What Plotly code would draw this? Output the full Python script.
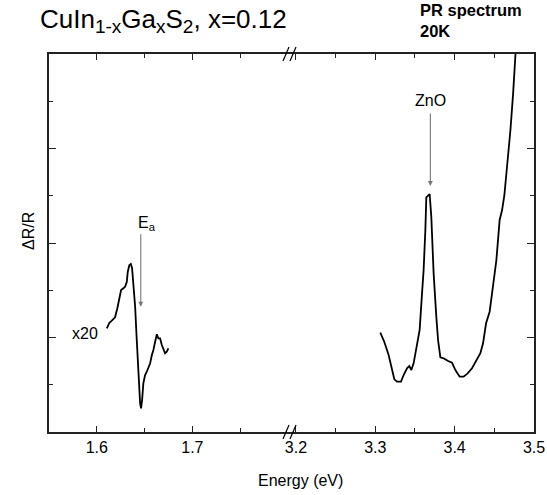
import plotly.graph_objects as go

# ---------------- data ----------------
# Left segment (x20 magnified, E_a region)
ea_energy = [1.6105, 1.6132, 1.6157, 1.6174, 1.6191, 1.6215, 1.6236, 1.6254, 1.6278, 1.6296,
             1.6314, 1.6324, 1.6341, 1.6356, 1.6369, 1.6383, 1.6401, 1.6418, 1.6432, 1.6446,
             1.6453, 1.6463, 1.6474, 1.6487, 1.6505, 1.6523, 1.6540, 1.6558, 1.6576, 1.6592,
             1.6610, 1.6628, 1.6644, 1.6662, 1.6680, 1.6697, 1.6714, 1.6732, 1.6749]
ea_signal = [2.195, 2.313, 2.356, 2.392, 2.428, 2.618, 2.830, 3.005, 3.041, 3.075,
             3.181, 3.393, 3.534, 3.556, 3.465, 3.147, 2.652, 1.947, 1.382, 0.889,
             0.607, 0.501, 0.677, 1.031, 1.206, 1.276, 1.348, 1.454, 1.630, 1.735,
             1.911, 2.068, 1.983, 1.983, 1.841, 1.771, 1.666, 1.699, 1.771]

# Right segment (ZnO region)
zno_energy = [3.3063, 3.3113, 3.3168, 3.3211, 3.3240, 3.3274, 3.3324, 3.3357, 3.3400, 3.3429,
              3.3454, 3.3483, 3.3517, 3.3559, 3.3589, 3.3609, 3.3631, 3.3643, 3.3665, 3.3685,
              3.3706, 3.3735, 3.3769, 3.3791, 3.3820, 3.3861, 3.3912, 3.3967, 3.4009, 3.4063,
              3.4113, 3.4164, 3.4219, 3.4282, 3.4324, 3.4358, 3.4396, 3.4441, 3.4484, 3.4526,
              3.4567, 3.4598, 3.4627, 3.4661, 3.4703, 3.4737, 3.4766, 3.4804]
zno_signal = [2.102, 1.911, 1.630, 1.348, 1.115, 1.065, 1.065, 1.206, 1.348, 1.397,
              1.312, 1.454, 1.735, 2.159, 2.935, 3.429, 4.275, 4.967, 5.001, 5.037,
              4.557, 3.359, 2.440, 1.947, 1.581, 1.560, 1.509, 1.467, 1.312, 1.170,
              1.170, 1.242, 1.348, 1.524, 1.666, 1.877, 2.301, 2.546, 3.075, 3.640,
              4.487, 4.698, 5.016, 5.615, 6.392, 7.168, 7.979, 8.508]

left_range = [1.55, 1.80]
right_range = [3.19, 3.50]
left_ticks = [1.6, 1.7]
left_minor = [1.65, 1.75]
right_ticks = [3.2, 3.3, 3.4, 3.5]
right_minor = [3.25, 3.35, 3.45]
y_range = [0, 8]
y_major = [2, 4, 6]
y_minor = [1, 3, 5, 7]

FONT = "Liberation Sans, Arial, sans-serif"
AX = "#222222"

fig = go.Figure()
fig.add_trace(go.Scatter(x=ea_energy, y=ea_signal, mode="lines",
                         line=dict(color="black", width=1.8), xaxis="x", yaxis="y",
                         showlegend=False, hoverinfo="skip"))
fig.add_trace(go.Scatter(x=zno_energy, y=zno_signal, mode="lines",
                         line=dict(color="black", width=1.8), xaxis="x2", yaxis="y2",
                         showlegend=False, hoverinfo="skip"))

split = (288 - 49) / 485

common_x = dict(showline=True, linecolor=AX, linewidth=1.5, mirror="ticks",
                ticks="inside", ticklen=6, tickwidth=1, tickcolor=AX,
                showgrid=False, zeroline=False, tickmode="array", automargin=False,
                tickfont=dict(family=FONT, size=16, color="black"))
common_y = dict(showline=True, linecolor=AX, linewidth=1.5, ticks="inside",
                ticklen=7, tickwidth=1, tickcolor=AX, showgrid=False, zeroline=False,
                range=y_range, tickmode="array", tickvals=y_major, showticklabels=False,
                automargin=False,
                minor=dict(tickmode="array", tickvals=y_minor, ticks="inside",
                           ticklen=4, tickcolor=AX))

fig.update_layout(
    width=547, height=495,
    margin=dict(l=49, r=13, t=54, b=63, autoexpand=False),
    paper_bgcolor="white", plot_bgcolor="white",
    font=dict(family=FONT, color="black"),
    xaxis=dict(domain=[0, split], range=left_range, tickvals=left_ticks,
               minor=dict(tickmode="array", tickvals=left_minor, ticks="inside",
                          ticklen=4, tickcolor=AX), anchor="y", **common_x),
    xaxis2=dict(domain=[split, 1], range=right_range, tickvals=right_ticks,
                minor=dict(tickmode="array", tickvals=right_minor, ticks="inside",
                           ticklen=4, tickcolor=AX), anchor="y2", **common_x),
    yaxis=dict(anchor="x", side="left", **common_y),
    yaxis2=dict(anchor="x2", side="right", matches="y", **common_y),
)

ARROW = "#777777"
SUB = '<sub><span style="font-size:19px">{}</span></sub>'
title_text = "CuIn" + SUB.format("1-x") + "Ga" + SUB.format("x") + "S" + SUB.format("2") + ", x=0.12"
ann = [
    # title
    dict(text=title_text, xref="paper", yref="paper",
         x=(38 - 49) / 485, y=(432 - 2) / 378, xanchor="left", yanchor="top",
         showarrow=False, font=dict(size=26, family=FONT)),
    dict(text="<b>PR spectrum<br>20K</b>", xref="paper", yref="paper",
         x=(418 - 49) / 485, y=(432 + 1) / 378, xanchor="left", yanchor="top", align="left",
         showarrow=False, font=dict(size=16.5, family=FONT)),
    # axis titles
    dict(text="Energy (eV)", xref="paper", yref="paper", x=(300 - 49) / 485,
         y=(432 - 481) / 378, xanchor="center", yanchor="middle",
         showarrow=False, font=dict(size=16, family=FONT)),
    dict(text="ΔR/R", xref="paper", yref="paper", x=(28 - 49) / 485,
         y=(432 - 231) / 378, xanchor="center", yanchor="middle",
         showarrow=False, textangle=-90, font=dict(size=16, family=FONT)),
    # labels
    dict(text="x20", xref="x", yref="y", x=1.5878, y=2.095, showarrow=False,
         xanchor="center", yanchor="middle", font=dict(size=16, family=FONT)),
    dict(text="E<sub>a</sub>", xref="x", yref="y", x=1.6460, y=4.42, xanchor="left",
         yanchor="middle", xshift=-5, showarrow=False, font=dict(size=16, family=FONT)),
    dict(text="ZnO", xref="x2", yref="y2", x=3.3694, y=7.026, showarrow=False,
         xanchor="center", yanchor="middle", font=dict(size=16, family=FONT)),
    # arrows
    dict(text="", xref="x", yref="y", x=1.6460, y=2.652, axref="x", ayref="y",
         ax=1.6460, ay=4.218, showarrow=True, arrowhead=2, arrowsize=0.9, arrowwidth=1.1,
         arrowcolor=ARROW, standoff=0, startstandoff=0),
    dict(text="", xref="x2", yref="y2", x=3.3694, y=5.206, axref="x2", ayref="y2",
         ax=3.3694, ay=6.772, showarrow=True, arrowhead=2, arrowsize=0.9, arrowwidth=1.1,
         arrowcolor=ARROW, standoff=0, startstandoff=0),
]
fig.update_layout(annotations=ann)

# axis break marks "//"
def px_to_paper(px, py):
    return (px - 49) / 485, (432 - py) / 378

shapes = []
for base in (432, 54):
    for dx in (0, 7):
        x0, y0 = px_to_paper(283 + dx, base + 7)
        x1, y1 = px_to_paper(289 + dx, base - 7)
        shapes.append(dict(type="line", xref="paper", yref="paper", x0=x0, y0=y0, x1=x1, y1=y1,
                           line=dict(color="black", width=1.2), layer="above"))
fig.update_layout(shapes=shapes)

fig.write_html("out.html")
